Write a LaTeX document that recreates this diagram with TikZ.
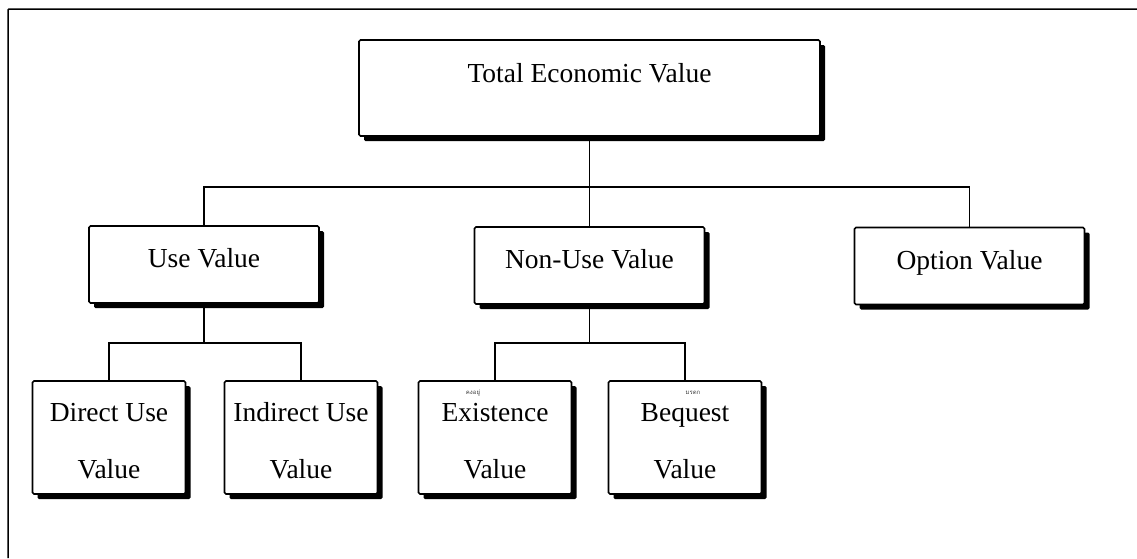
\documentclass[tikz,border=0pt]{standalone}
\usepackage{fontspec}
\setmainfont{Liberation Serif}
\newfontfamily\thaifont[Script=Thai]{Loma}
\usetikzlibrary{shadows}
\begin{document}
\begin{tikzpicture}[x=1pt,y=-1pt,
  box/.style={draw, line width=1.6pt, rounded corners=1.5pt, fill=white,
    drop shadow={shadow xshift=5pt, shadow yshift=-5pt, fill=black, opacity=1},
    inner sep=0pt, font=\fontsize{27.5}{33}\selectfont},
  midbox/.style={box, minimum width=230pt, minimum height=77pt, text height=20pt, text depth=14pt},
  lowbox/.style={box, minimum width=153pt, minimum height=113pt, align=center, text height=81pt, text depth=0pt},
  conn/.style={line width=1.2pt},
  thai/.style={font=\thaifont\fontsize{6}{7}\selectfont, text=black!75, inner sep=0pt}]
\useasboundingbox (0,0) rectangle (1137,558);
% outer frame
\coordinate (fbl) at (8,558);
\coordinate (ftl) at (8,9);
\coordinate (ftr) at (1137,9);
\draw[line width=1.5pt, rounded corners=1pt] (fbl) -- (ftl) -- (ftr);
% boxes
\node[box, minimum width=461pt, minimum height=96pt, text height=20pt, text depth=32pt] (tev) at (589.5,88) {Total Economic Value};
\node[midbox] (use) at (204,264.5) {Use Value};
\node[midbox] (nonuse) at (589.5,265.5) {Non-Use Value};
\node[midbox] (opt) at (969.5,266) {Option Value};
\node[lowbox] (direct) at (109,437.5) {Direct Use\\[24pt]Value};
\node[lowbox] (indirect) at (301,437.5) {Indirect Use\\[24pt]Value};
\node[lowbox] (exist) at (495,437.5) {Existence\\[24pt]Value};
\node[lowbox] (beq) at (685,437.5) {Bequest\\[24pt]Value};
\node[thai] (exth) at (473,393) {คงอยู่};
\node[thai] (beqth) at (693,393) {มรดก};
% connectors
\coordinate (bus) at (589.5,187);
\coordinate (ubus) at (204,343);
\coordinate (nbus) at (589.5,343);
\draw[conn] (tev.south) -- (nonuse.north);
\draw[conn] (use.north) |- (bus) -| (opt.north);
\draw[conn] (use.south) -- (ubus);
\draw[conn] (direct.north) |- (ubus) -| (indirect.north);
\draw[conn] (nonuse.south) -- (nbus);
\draw[conn] (exist.north) |- (nbus) -| (beq.north);
\end{tikzpicture}
\end{document}
